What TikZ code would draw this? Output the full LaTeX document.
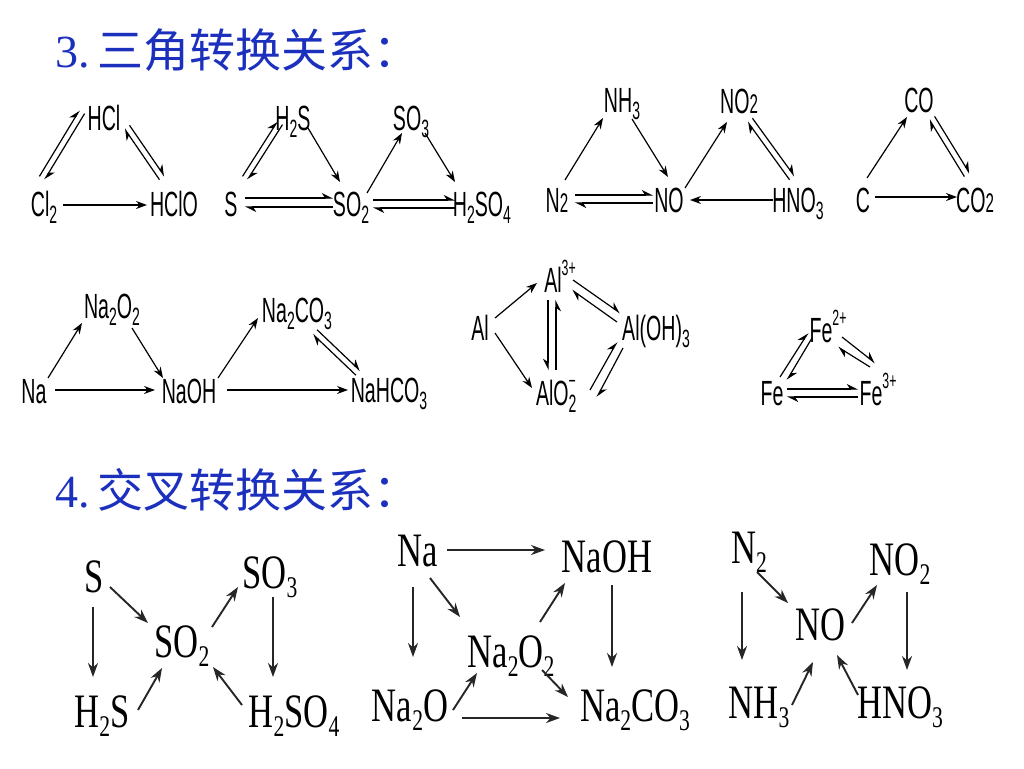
\documentclass[tikz,border=0pt]{standalone}
\usepackage{fontspec}
\setmainfont{Liberation Serif}
\newfontfamily\cjk{Noto Sans CJK SC}
\newfontfamily\cf[FakeStretch=0.56]{Liberation Sans}
\newfontfamily\tf[FakeStretch=0.72]{Liberation Serif}
\usetikzlibrary{arrows.meta}
\newcommand\ts[1]{\raisebox{-0.22em}{\fontsize{25}{25}\selectfont #1}}
\newcommand\tn[1]{{\fontsize{27}{27}\selectfont #1}}
\newcommand\tu[1]{\raisebox{0.48em}{\fontsize{22}{22}\selectfont #1}}
\newcommand\bs[1]{\raisebox{-0.2em}{\fontsize{30}{30}\selectfont #1}}
\definecolor{hblue}{RGB}{28,48,190}
\begin{document}
\begin{tikzpicture}[x=1pt,y=-1pt,
  lab/.style={inner sep=0pt, anchor=base, font=\cf\fontsize{35}{35}\selectfont},
  blab/.style={inner sep=0pt, anchor=base, font=\tf\fontsize{48}{48}\selectfont},
  ar/.style={line width=1.2pt, -{Stealth[length=11pt,width=8pt]}},
  hp/.style={line width=1.2pt, -{Stealth[harpoon,length=10pt,width=10pt]}},
  hps/.style={line width=1.2pt, -{Stealth[harpoon,swap,length=10pt,width=10pt]}},
  bar/.style={line width=1.9pt, draw=black!85, -{Stealth[length=14pt,width=10pt]}},
  head/.style={anchor=base west, inner sep=0pt, text=hblue, font=\fontsize{46}{46}\selectfont}]
\fill[white] (0,0) rectangle (1024,768);
\useasboundingbox (0,0) rectangle (1024,768);
% headings
\node[head] (h3) at (55,67) {3.\,{\cjk 三角转换关系：}};
\node[head] (h4) at (55,507) {4.\,{\cjk 交叉转换关系：}};
% top row nodes
\node[lab] (HCl) at (104,130) {HCl};
\node[lab] (Cl2) at (44,216) {Cl\ts{2}};
\node[lab] (HClO) at (174,216) {HClO};
\node[lab] (H2S) at (293,130) {H\ts{2}S};
\node[lab] (S) at (231,216) {S};
\node[lab] (SO2) at (351,216) {SO\ts{2}};
\node[lab] (SO3) at (411,130) {SO\ts{3}};
\node[lab] (H2SO4) at (482,216) {H\ts{2}SO\ts{4}};
\node[lab] (NH3) at (622,112) {NH\ts{3}};
\node[lab] (N2) at (557,212) {N\tn{2}};
\node[lab] (NO) at (669,212) {NO};
\node[lab] (NO2) at (739,113) {NO\tn{2}};
\node[lab] (HNO3) at (798,212) {HNO\ts{3}};
\node[lab] (CO) at (919,112) {CO};
\node[lab] (C) at (863,212) {C};
\node[lab] (CO2) at (975,212) {CO\tn{2}};
% middle row nodes
\node[lab] (Na2O2) at (112,318) {Na\ts{2}O\ts{2}};
\node[lab] (Na) at (34,403) {Na};
\node[lab] (NaOH) at (189,403) {NaOH};
\node[lab] (Na2CO3) at (297,322) {Na\ts{2}CO\ts{3}};
\node[lab] (NaHCO3) at (389,402) {NaHCO\ts{3}};
\node[lab] (Al3) at (560,292) {Al\tu{3+}};
\node[lab] (Al) at (480,340) {Al};
\node[lab] (AlOH) at (656,340) {Al(OH)\ts{3}};
\node[lab] (AlO2) at (556,405) {AlO\rlap{\ts{2}}\tu{−}};
\node[lab] (Fe2) at (828,342) {Fe\tu{2+}};
\node[lab] (Fe) at (772,405) {Fe};
\node[lab] (Fe3) at (878,405) {Fe\tu{3+}};
% bottom row nodes
\node[blab] (bS) at (94,592) {S};
\node[blab] (bSO3) at (270,588) {SO\bs{3}};
\node[blab] (bSO2) at (182,657) {SO\bs{2}};
\node[blab] (bH2S) at (102,727) {H\bs{2}S};
\node[blab] (bH2SO4) at (294,727) {H\bs{2}SO\bs{4}};
\node[blab] (bNa) at (418,566) {Na};
\node[blab] (bNaOH) at (607,572) {NaOH};
\node[blab] (bNa2O2) at (511,667) {Na\bs{2}O\bs{2}};
\node[blab] (bNa2O) at (410,721) {Na\bs{2}O};
\node[blab] (bNa2CO3) at (635,721) {Na\bs{2}CO\bs{3}};
\node[blab] (bN2) at (749,563) {N\bs{2}};
\node[blab] (bNO2) at (900,575) {NO\bs{2}};
\node[blab] (bNO) at (820,640) {NO};
\node[blab] (bNH3) at (759,718) {NH\bs{3}};
\node[blab] (bHNO3) at (900,718) {HNO\bs{3}};
% --- top: Cl
\draw[ar] ([shift={(19,-11)}]Cl2.base) -- ([shift={(-27,-11)}]HClO.base);
\draw[hp] ([shift={(-4.6,-39.6)}]Cl2.base) -- ([shift={(-24.6,-19.6)}]HCl.base);
\draw[hp] ([shift={(-19.4,-16.4)}]HCl.base) -- ([shift={(0.6,-36.4)}]Cl2.base);
\draw[hp] ([shift={(25.5,-4.7)}]HCl.base) -- ([shift={(-9.5,-39.7)}]HClO.base);
\draw[hp] ([shift={(-14.5,-36.3)}]HClO.base) -- ([shift={(20.5,-1.3)}]HCl.base);
% --- top: S
\draw[hp] ([shift={(11.5,-39.6)}]S.base) -- ([shift={(-15.5,-8.6)}]H2S.base);
\draw[hp] ([shift={(-10.5,-5.4)}]H2S.base) -- ([shift={(16.5,-36.4)}]S.base);
\draw[ar] ([shift={(15,-2)}]H2S.base) -- ([shift={(-11,-34)}]SO2.base);
\draw[hp] ([shift={(14,-18)}]S.base) -- ([shift={(-18,-18)}]SO2.base);
\draw[hp] ([shift={(-18,-9)}]SO2.base) -- ([shift={(14,-9)}]S.base);
\draw[ar] ([shift={(16,-23)}]SO2.base) -- ([shift={(-9,3)}]SO3.base);
\draw[ar] ([shift={(14,3)}]SO3.base) -- ([shift={(-27,-34)}]H2SO4.base);
\draw[hp] ([shift={(22,-16)}]SO2.base) -- ([shift={(-27,-16)}]H2SO4.base);
\draw[hp] ([shift={(-27,-8)}]H2SO4.base) -- ([shift={(22,-8)}]SO2.base);
% --- top: N
\draw[ar] ([shift={(8,-32)}]N2.base) -- ([shift={(-19,6)}]NH3.base);
\draw[ar] ([shift={(10,7)}]NH3.base) -- ([shift={(-1,-35)}]NO.base);
\draw[hp] ([shift={(18,-17)}]N2.base) -- ([shift={(-16,-17)}]NO.base);
\draw[hp] ([shift={(-16,-9)}]NO.base) -- ([shift={(18,-9)}]N2.base);
\draw[ar] ([shift={(16,-24)}]NO.base) -- ([shift={(-12,9)}]NO2.base);
\draw[hp] ([shift={(13.4,5.2)}]NO2.base) -- ([shift={(-3.6,-35.8)}]HNO3.base);
\draw[hp] ([shift={(-8.4,-32.2)}]HNO3.base) -- ([shift={(8.6,8.8)}]NO2.base);
\draw[ar] ([shift={(-25,-12)}]HNO3.base) -- ([shift={(21,-12)}]NO.base);
% --- top: C
\draw[ar] ([shift={(4,-34)}]C.base) -- ([shift={(-12,5)}]CO.base);
\draw[hp] ([shift={(15.6,4.4)}]CO.base) -- ([shift={(-5.4,-38.6)}]CO2.base);
\draw[hp] ([shift={(-10.6,-35.4)}]CO2.base) -- ([shift={(10.4,7.6)}]CO.base);
\draw[ar] ([shift={(12,-15)}]C.base) -- ([shift={(-18,-15)}]CO2.base);
% --- middle: Na
\draw[ar] ([shift={(14,-25)}]Na.base) -- ([shift={(-30,5)}]Na2O2.base);
\draw[ar] ([shift={(20,10)}]Na2O2.base) -- ([shift={(-26,-25)}]NaOH.base);
\draw[ar] ([shift={(21,-13)}]Na.base) -- ([shift={(-34,-13)}]NaOH.base);
\draw[ar] ([shift={(29,-25)}]NaOH.base) -- ([shift={(-39,-4)}]Na2CO3.base);
\draw[hp] ([shift={(20.1,7.8)}]Na2CO3.base) -- ([shift={(-28.9,-31.2)}]NaHCO3.base);
\draw[hp] ([shift={(-33.1,-26.8)}]NaHCO3.base) -- ([shift={(15.9,12.2)}]Na2CO3.base);
\draw[ar] ([shift={(38,-13)}]NaOH.base) -- ([shift={(-41,-12)}]NaHCO3.base);
% --- middle: Al
\draw[ar] ([shift={(15,-22)}]Al.base) -- ([shift={(-23,-9)}]Al3.base);
\draw[ar] ([shift={(15,-7)}]Al.base) -- ([shift={(-24,-17)}]AlO2.base);
\draw[hps] ([shift={(-12,8)}]Al3.base) -- ([shift={(-8,-35)}]AlO2.base);
\draw[hps] ([shift={(0,-35)}]AlO2.base) -- ([shift={(-4,8)}]Al3.base);
\draw[hp] ([shift={(13,-12)}]Al3.base) -- ([shift={(-36,-27)}]AlOH.base);
\draw[hp] ([shift={(-39,-18)}]AlOH.base) -- ([shift={(12,-2)}]Al3.base);
\draw[hp] ([shift={(34,-15)}]AlO2.base) -- ([shift={(-39,2)}]AlOH.base);
\draw[hp] ([shift={(-33,8)}]AlOH.base) -- ([shift={(41,-8)}]AlO2.base);
% --- middle: Fe
\draw[hp] ([shift={(8,-28)}]Fe.base) -- ([shift={(-20,-9)}]Fe2.base);
\draw[hp] ([shift={(-16,-4)}]Fe2.base) -- ([shift={(15,-25)}]Fe.base);
\draw[hp] ([shift={(14,-5)}]Fe2.base) -- ([shift={(-3,-42)}]Fe3.base);
\draw[hp] ([shift={(-8,-38)}]Fe3.base) -- ([shift={(10,5)}]Fe2.base);
\draw[hp] ([shift={(15,-16)}]Fe.base) -- ([shift={(-20,-16)}]Fe3.base);
\draw[hp] ([shift={(-20,-8)}]Fe3.base) -- ([shift={(15,-8)}]Fe.base);
% --- bottom: S
\draw[bar] ([shift={(-1,15)}]bS.base) -- ([shift={(-9,-50)}]bH2S.base);
\draw[bar] ([shift={(16,-5)}]bS.base) -- ([shift={(-34,-34)}]bSO2.base);
\draw[bar] ([shift={(30,-30)}]bSO2.base) -- ([shift={(-32,-1)}]bSO3.base);
\draw[bar] ([shift={(3,9)}]bSO3.base) -- ([shift={(-21,-50)}]bH2SO4.base);
\draw[bar] ([shift={(36,-17)}]bH2S.base) -- ([shift={(-20,11)}]bSO2.base);
\draw[bar] ([shift={(-52,-22)}]bH2SO4.base) -- ([shift={(31,10)}]bSO2.base);
% --- bottom: Na
\draw[bar] ([shift={(29,-16)}]bNa.base) -- ([shift={(-62,-22)}]bNaOH.base);
\draw[bar] ([shift={(-5,21)}]bNa.base) -- ([shift={(3,-64)}]bNa2O.base);
\draw[bar] ([shift={(12,12)}]bNa.base) -- ([shift={(-51,-50)}]bNa2O2.base);
\draw[bar] ([shift={(29,-45)}]bNa2O2.base) -- ([shift={(-42,11)}]bNaOH.base);
\draw[bar] ([shift={(5,13)}]bNaOH.base) -- ([shift={(-23,-54)}]bNa2CO3.base);
\draw[bar] ([shift={(31,3)}]bNa2O2.base) -- ([shift={(-67,-24)}]bNa2CO3.base);
\draw[bar] ([shift={(43,-11)}]bNa2O.base) -- ([shift={(-34,6)}]bNa2O2.base);
\draw[bar] ([shift={(52,-3)}]bNa2O.base) -- ([shift={(-75,-3)}]bNa2CO3.base);
% --- bottom: N
\draw[bar] ([shift={(-7,29)}]bN2.base) -- ([shift={(-17,-58)}]bNH3.base);
\draw[bar] ([shift={(8,9)}]bN2.base) -- ([shift={(-32,-37)}]bNO.base);
\draw[bar] ([shift={(32,-17)}]bNO.base) -- ([shift={(-23,10)}]bNO2.base);
\draw[bar] ([shift={(7,17)}]bNO2.base) -- ([shift={(7,-48)}]bHNO3.base);
\draw[bar] ([shift={(33,-13)}]bNH3.base) -- ([shift={(-7,22)}]bNO.base);
\draw[bar] ([shift={(-42,-23)}]bHNO3.base) -- ([shift={(17,15)}]bNO.base);
\end{tikzpicture}
\end{document}
